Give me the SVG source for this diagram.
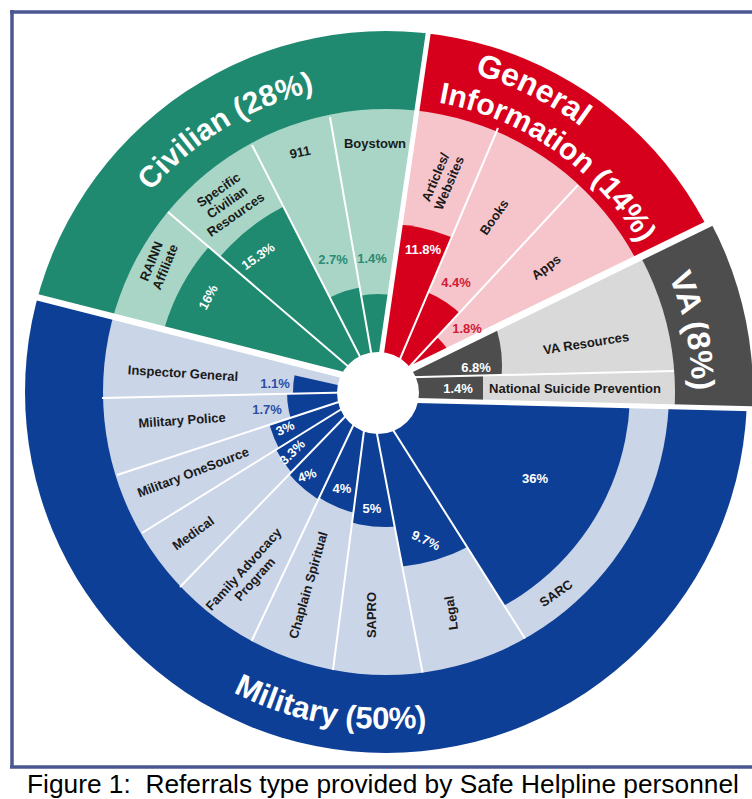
<svg xmlns="http://www.w3.org/2000/svg" width="752" height="799" viewBox="0 0 752 799">
<defs>
<style>
.sub{font-family:"Liberation Sans",Arial,sans-serif;font-weight:bold;font-size:13px;fill:#1a1a1a;text-anchor:middle}
.pct{font-family:"Liberation Sans",Arial,sans-serif;font-weight:bold;font-size:13px;text-anchor:middle}
.w{fill:#ffffff}
.cat{font-family:"Liberation Sans",Arial,sans-serif;font-weight:bold;fill:#ffffff}
.gap{stroke:#ffffff;fill:none}
.div{stroke:#ffffff;stroke-width:2;fill:none}
.civD{fill:#1f8a70}.civL{fill:#a8d5c6}
.giD{fill:#d6001c}.giL{fill:#f6c5cc}
.vaD{fill:#4d4d4d}.vaL{fill:#d9d9d9}
.milD{fill:#0d3f96}.milL{fill:#cad5e8}
</style>
<clipPath id="cCiv"><polygon points="365,380.6 0,287.8 0,-10 434.6,-10 377.6,380"/></clipPath>
<clipPath id="cGI"><polygon points="377.6,380 434.6,-10 760,-10 760,198.6 395,376.8"/></clipPath>
<clipPath id="cVA"><polygon points="395,376.8 760,198.6 770,409.3 395,399.9"/></clipPath>
<clipPath id="cMil"><polygon points="395,399.9 770,409.3 770,800 0,800 0,287.8 365,380.6"/></clipPath>
<clipPath id="wRAINN"><polygon points="378,392 63,122 -100,150 -100,500"/></clipPath>
<clipPath id="wSCR"><polygon points="378,392 189,21.5 63,122"/></clipPath>
<clipPath id="w911"><polygon points="378,392 306,-20.5 189,21.5"/></clipPath>
<clipPath id="wBoys"><polygon points="378,392 600,-20 306,-20.5"/></clipPath>
<clipPath id="wArt"><polygon points="340,420 330,-50 531.6,48.8 386,392"/></clipPath>
<clipPath id="wBooks"><polygon points="386,392 531.6,48.8 635.6,122.9"/></clipPath>
<clipPath id="wApps"><polygon points="386,392 635.6,122.9 800,300"/></clipPath>
<clipPath id="wVAR"><polygon points="380,377.9 380,150 760,150 760,368.9"/></clipPath>
<clipPath id="wNSP"><polygon points="380,377.9 760,368.9 770,430 380,430"/></clipPath>
<clipPath id="wIG"><polygon points="369,392 -5,400.4 -11,307"/></clipPath>
<clipPath id="wMP"><polygon points="369,392 16,508 -5,400.4"/></clipPath>
<clipPath id="wMOS"><polygon points="369,392 51,589 16,508"/></clipPath>
<clipPath id="wMed"><polygon points="369,392 104,665 51,589"/></clipPath>
<clipPath id="wFAP"><polygon points="369,392 204.6,740.6 104,665"/></clipPath>
<clipPath id="wChap"><polygon points="369,392 318.6,781 204.6,740.6"/></clipPath>
<clipPath id="wSAPRO"><polygon points="369,392 443.9,784.8 318.6,781"/></clipPath>
<clipPath id="wLegal"><polygon points="369,392 587.4,737.1 443.9,784.8"/></clipPath>
<clipPath id="wSARC"><polygon points="369,392 800,380 587.4,737.1"/></clipPath>
<path id="pCiv" d="M77.1 400.1 A309 309 0 0 1 533.5 120.4"/>
<path id="pGen" d="M202.6 118.1 A327 327 0 0 1 712.2 369.2"/>
<path id="pInf" d="M261.7 125.5 A294 294 0 0 1 678.9 417.6"/>
<path id="pVA" d="M487.2 107.5 A300 300 0 0 1 590.8 616.7"/>
<path id="pMil" d="M69.3 507.3 A337 337 0 0 0 644.2 608.6"/>
</defs>

<rect x="0" y="0" width="752" height="799" fill="#ffffff"/>

<g id="frame" stroke="#4b5791" stroke-width="3.5" fill="none">
<path d="M10 12 H752"/>
<path d="M12 10 V767"/>
<path d="M10 767 H752"/>
</g>
<text id="caption" x="27" y="793" font-family="Liberation Sans, Arial, sans-serif" font-size="26.3" fill="#000000" xml:space="preserve">Figure 1:  Referrals type provided by Safe Helpline personnel</text>

<g id="civilian" clip-path="url(#cCiv)">
<circle class="civD" cx="386" cy="392" r="361"/>
<circle class="civL" cx="386" cy="392" r="283"/>
<g id="bar-rainn" clip-path="url(#wRAINN)"><circle class="civD" cx="378" cy="392" r="223"/></g>
<g id="bar-scr" clip-path="url(#wSCR)"><circle class="civD" cx="378" cy="392" r="208"/></g>
<g id="bar-911" clip-path="url(#w911)"><circle class="civD" cx="378" cy="392" r="106"/></g>
<g id="bar-boystown" clip-path="url(#wBoys)"><circle class="civD" cx="378" cy="392" r="98"/></g>
</g>

<g id="general-information" clip-path="url(#cGI)">
<circle class="giD" cx="386" cy="392" r="361"/>
<circle class="giL" cx="386" cy="392" r="283"/>
<g id="bar-articles" clip-path="url(#wArt)"><circle class="giD" cx="386" cy="392" r="168"/></g>
<g id="bar-books" clip-path="url(#wBooks)"><circle class="giD" cx="386" cy="392" r="108"/></g>
<g id="bar-apps" clip-path="url(#wApps)"><circle class="giD" cx="386" cy="392" r="75"/></g>
</g>

<g id="va" clip-path="url(#cVA)">
<circle class="vaD" cx="392" cy="392" r="361"/>
<circle class="vaL" cx="392" cy="392" r="283"/>
<g id="bar-va-resources" clip-path="url(#wVAR)"><circle class="vaD" cx="380" cy="365" r="122"/></g>
<g id="bar-nsp" clip-path="url(#wNSP)"><rect class="vaD" x="370" y="360" width="113" height="70"/></g>
</g>

<g id="military" clip-path="url(#cMil)">
<circle class="milD" cx="386" cy="392" r="361"/>
<circle class="milL" cx="386" cy="392" r="283"/>
<g id="bar-ig" clip-path="url(#wIG)"><circle class="milD" cx="386" cy="392" r="93"/></g>
<g id="bar-mp" clip-path="url(#wMP)"><circle class="milD" cx="386" cy="392" r="99"/></g>
<g id="bar-mos" clip-path="url(#wMOS)"><circle class="milD" cx="386" cy="392" r="121"/></g>
<g id="bar-medical" clip-path="url(#wMed)"><circle class="milD" cx="386" cy="392" r="124"/></g>
<g id="bar-fap" clip-path="url(#wFAP)"><circle class="milD" cx="386" cy="392" r="127"/></g>
<g id="bar-chaplain" clip-path="url(#wChap)"><circle class="milD" cx="386" cy="392" r="125"/></g>
<g id="bar-sapro" clip-path="url(#wSAPRO)"><circle class="milD" cx="386" cy="392" r="135"/></g>
<g id="bar-legal" clip-path="url(#wLegal)"><circle class="milD" cx="386" cy="392" r="175"/></g>
<g id="bar-sarc" clip-path="url(#wSARC)"><circle class="milD" cx="386" cy="392" r="244"/></g>
</g>

<g id="connectors">
<path class="div" d="M168 212 L378 392"/>
<path class="div" d="M252 145 L378 392"/>
<path class="div" d="M330 117 L378 392"/>
<path class="div" d="M498 128 L386 392"/>
<path class="div" d="M578 185 L386 392"/>
<path class="div" d="M380 377.9 L674 371"/>
<path class="div" d="M102 398 L369 392"/>
<path class="div" d="M117 475 L369 392"/>
<path class="div" d="M142 533 L369 392"/>
<path class="div" d="M180 587 L369 392"/>
<path class="div" d="M251.6 641 L369 392"/>
<path class="div" d="M333 670 L369 392"/>
<path class="div" d="M422.5 672.6 L369 392"/>
<path class="div" d="M525 638.5 L369 392"/>
<path class="gap" stroke-width="6.5" d="M365 380.6 L17 292.2"/>
<path class="gap" stroke-width="5" d="M377.6 380 L429.4 25"/>
<path class="gap" stroke-width="7" d="M395 376.8 L730 213.3"/>
<path class="gap" stroke-width="5" d="M395 399.9 L770 409.3"/>
<circle id="hole" cx="378" cy="393" r="41" fill="#ffffff"/>
</g>

<g id="civilian-labels">
<text class="cat" font-size="30"><textPath href="#pCiv" startOffset="50%" text-anchor="middle">Civilian (28%)</textPath></text>
<text class="sub" transform="translate(158,264) rotate(-68)"><tspan x="0" y="-2.8">RAINN</tspan><tspan x="0" y="12.2">Affiliate</tspan></text>
<text class="sub" transform="translate(227,202) rotate(-35)"><tspan x="0" y="-10.3">Specific</tspan><tspan x="0" y="4.7">Civilian</tspan><tspan x="0" y="19.7">Resources</tspan></text>
<text class="sub" transform="translate(300,152) rotate(-12)" y="4.7">911</text>
<text class="sub" x="375" y="147.7">Boystown</text>
<text class="pct w" transform="translate(208,297) rotate(-62)" y="4.7">16%</text>
<text class="pct w" transform="translate(258,256) rotate(-35)" y="4.7">15.3%</text>
<text class="pct" fill="#2b8b73" x="333" y="263.7">2.7%</text>
<text class="pct" fill="#2b8b73" x="372" y="262.7">1.4%</text>
</g>

<g id="general-information-labels">
<text class="cat" font-size="32"><textPath href="#pGen" startOffset="50%" text-anchor="middle">General</textPath></text>
<text class="cat" font-size="30"><textPath href="#pInf" startOffset="50%" text-anchor="middle">Information (14%)</textPath></text>
<text class="sub" transform="translate(442,180) rotate(-67)"><tspan x="0" y="-2.8">Articles/</tspan><tspan x="0" y="12.2">Websites</tspan></text>
<text class="sub" transform="translate(494,217) rotate(-55)" y="4.7">Books</text>
<text class="sub" transform="translate(546,267) rotate(-37)" y="4.7">Apps</text>
<text class="pct w" x="423" y="253.7">11.8%</text>
<text class="pct" fill="#d11b35" x="456" y="286.7">4.4%</text>
<text class="pct" fill="#d11b35" x="467" y="332.7">1.8%</text>
</g>

<g id="va-labels">
<text class="cat" font-size="32"><textPath href="#pVA" startOffset="50%" text-anchor="middle">VA (8%)</textPath></text>
<text class="sub" transform="translate(586,343) rotate(-9)" y="4.7">VA Resources</text>
<text class="pct w" x="476" y="371.7">6.8%</text>
<text class="pct w" x="458" y="392.7">1.4%</text>
<text class="sub" x="575" y="392.7">National Suicide Prevention</text>
</g>

<g id="military-labels">
<text class="cat" font-size="31"><textPath href="#pMil" startOffset="50%" text-anchor="middle">Military (50%)</textPath></text>
<text class="sub" transform="translate(183,373) rotate(3.5)" y="4.7">Inspector General</text>
<text class="pct" fill="#2d4fa5" x="275" y="387.7">1.1%</text>
<text class="sub" transform="translate(182,420) rotate(-4)" y="4.7">Military Police</text>
<text class="pct" fill="#2d4fa5" x="267" y="413.7">1.7%</text>
<text class="sub" transform="translate(193,472) rotate(-21)" y="4.7">Military OneSource</text>
<text class="pct w" transform="translate(285,428) rotate(-25)" y="4.7">3%</text>
<text class="sub" transform="translate(193,533) rotate(-36)" y="4.7">Medical</text>
<text class="pct w" transform="translate(292,452) rotate(-45)" y="4.7">3.3%</text>
<text class="sub" transform="translate(249,574) rotate(-48)"><tspan x="0" y="-2.8">Family Advocacy</tspan><tspan x="0" y="12.2">Program</tspan></text>
<text class="pct w" transform="translate(307,475) rotate(-20)" y="4.7">4%</text>
<text class="sub" transform="translate(308,585) rotate(-74)" y="4.7">Chaplain Spiritual</text>
<text class="pct w" x="342" y="492.7">4%</text>
<text class="sub" transform="translate(371,615) rotate(-90)" y="4.7">SAPRO</text>
<text class="pct w" x="372" y="512.7">5%</text>
<text class="sub" transform="translate(451,613) rotate(-98)" y="4.7">Legal</text>
<text class="pct w" transform="translate(426,540) rotate(25)" y="4.7">9.7%</text>
<text class="sub" transform="translate(556,593) rotate(-35)" y="4.7">SARC</text>
<text class="pct w" x="535" y="482.7">36%</text>
</g>
</svg>
